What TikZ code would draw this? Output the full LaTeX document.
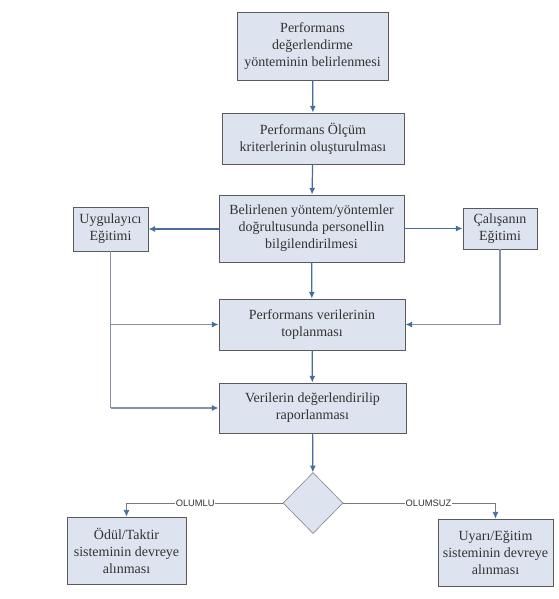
\documentclass[tikz,border=0pt]{standalone}
\usepackage{fontspec}
\setmainfont{Liberation Serif}
\newfontfamily\lblfont{Liberation Sans}
\usetikzlibrary{arrows.meta,shapes.geometric}
\definecolor{boxfill}{HTML}{DDE4EF}
\definecolor{boxline}{HTML}{5A5A5A}
\definecolor{arrowblue}{HTML}{4A6C9B}
\definecolor{sideline}{HTML}{8590A6}
\definecolor{textcol}{HTML}{333333}
\tikzset{
  stepbox/.style 2 args={draw=boxline, line width=0.65pt, fill=boxfill, rectangle,
    minimum width=#1*0.75pt, minimum height=#2*0.75pt, inner sep=1pt, align=center,
    font=\fontsize{10.5}{12.75}\selectfont, text=textcol},
  decide/.style={draw=boxline!70, line width=0.5pt, fill=boxfill, diamond,
    minimum width=60*0.75pt, minimum height=61*0.75pt, inner sep=0pt},
  flow/.style={draw=arrowblue, line width=0.9pt, -{Latex[length=5pt,width=4.5pt]}},
  sideflow/.style={draw=sideline, line width=0.9pt, -{Latex[length=5pt,width=4.5pt,color=arrowblue,fill=arrowblue]}},
  branch/.style={draw=boxline!80, line width=0.6pt, -{Latex[length=5pt,width=4.5pt,color=arrowblue,fill=arrowblue]}},
  lbl/.style={fill=white, inner sep=0.5pt, font=\lblfont\fontsize{7}{8}\selectfont, text=textcol}
}
\begin{document}
\begin{tikzpicture}[x=0.75pt,y=-0.75pt]
\useasboundingbox (0,0) rectangle (559,599);
\node[stepbox={151}{68}] (b1) at (312.5,46) {Performans\\değerlendirme\\yönteminin belirlenmesi};
\node[stepbox={182}{51}] (b2) at (313,138.5) {Performans Ölçüm\\kriterlerinin oluşturulması};
\node[stepbox={185}{67}] (b3) at (311.5,228.5) {Belirlenen yöntem/yöntemler\\doğrultusunda personellin\\bilgilendirilmesi};
\node[stepbox={75}{44}] (uyg) at (110.5,229) {Uygulayıcı\\Eğitimi};
\node[stepbox={74}{41}] (cal) at (500,228.5) {Çalışanın\\Eğitimi};
\node[stepbox={186}{51}] (b4) at (312,324.5) {Performans verilerinin\\toplanması};
\node[stepbox={187}{50}] (b5) at (312.5,408) {Verilerin değerlendirilip\\raporlanması};
\node[decide] (dia) at (313,503) {};
\node[stepbox={119}{67}] (odul) at (126.5,550.5) {Ödül/Taktir\\sisteminin devreye\\alınması};
\node[stepbox={115}{67}] (uyari) at (495.5,552.5) {Uyarı/Eğitim\\sisteminin devreye\\alınması};

\draw[flow] (b1) -- (b2);
\draw[flow] (b2) -- (b3);
\draw[flow] (b3) -- (b4);
\draw[flow] (b4) -- (b5);
\draw[flow] (b5) -- (dia);
\draw[flow] (b3.west |- uyg.east) -- (uyg.east);
\draw[flow] (b3.east |- cal.west) -- (cal.west);

\draw[sideline, line width=0.9pt] (uyg.south) -- (uyg.south |- b5.west);
\draw[sideflow] (uyg.south |- b4.west) -- (b4.west);
\draw[sideflow] (uyg.south |- b5.west) -- (b5.west);
\draw[sideflow] (cal.south) |- (b4.east);

\draw[branch] (dia.west) -| node[lbl, pos=0.28] (olumlu) {OLUMLU} (odul.north);
\draw[branch] (dia.east) -| node[lbl, pos=0.28] (olumsuz) {OLUMSUZ} (uyari.north);
\end{tikzpicture}
\end{document}
